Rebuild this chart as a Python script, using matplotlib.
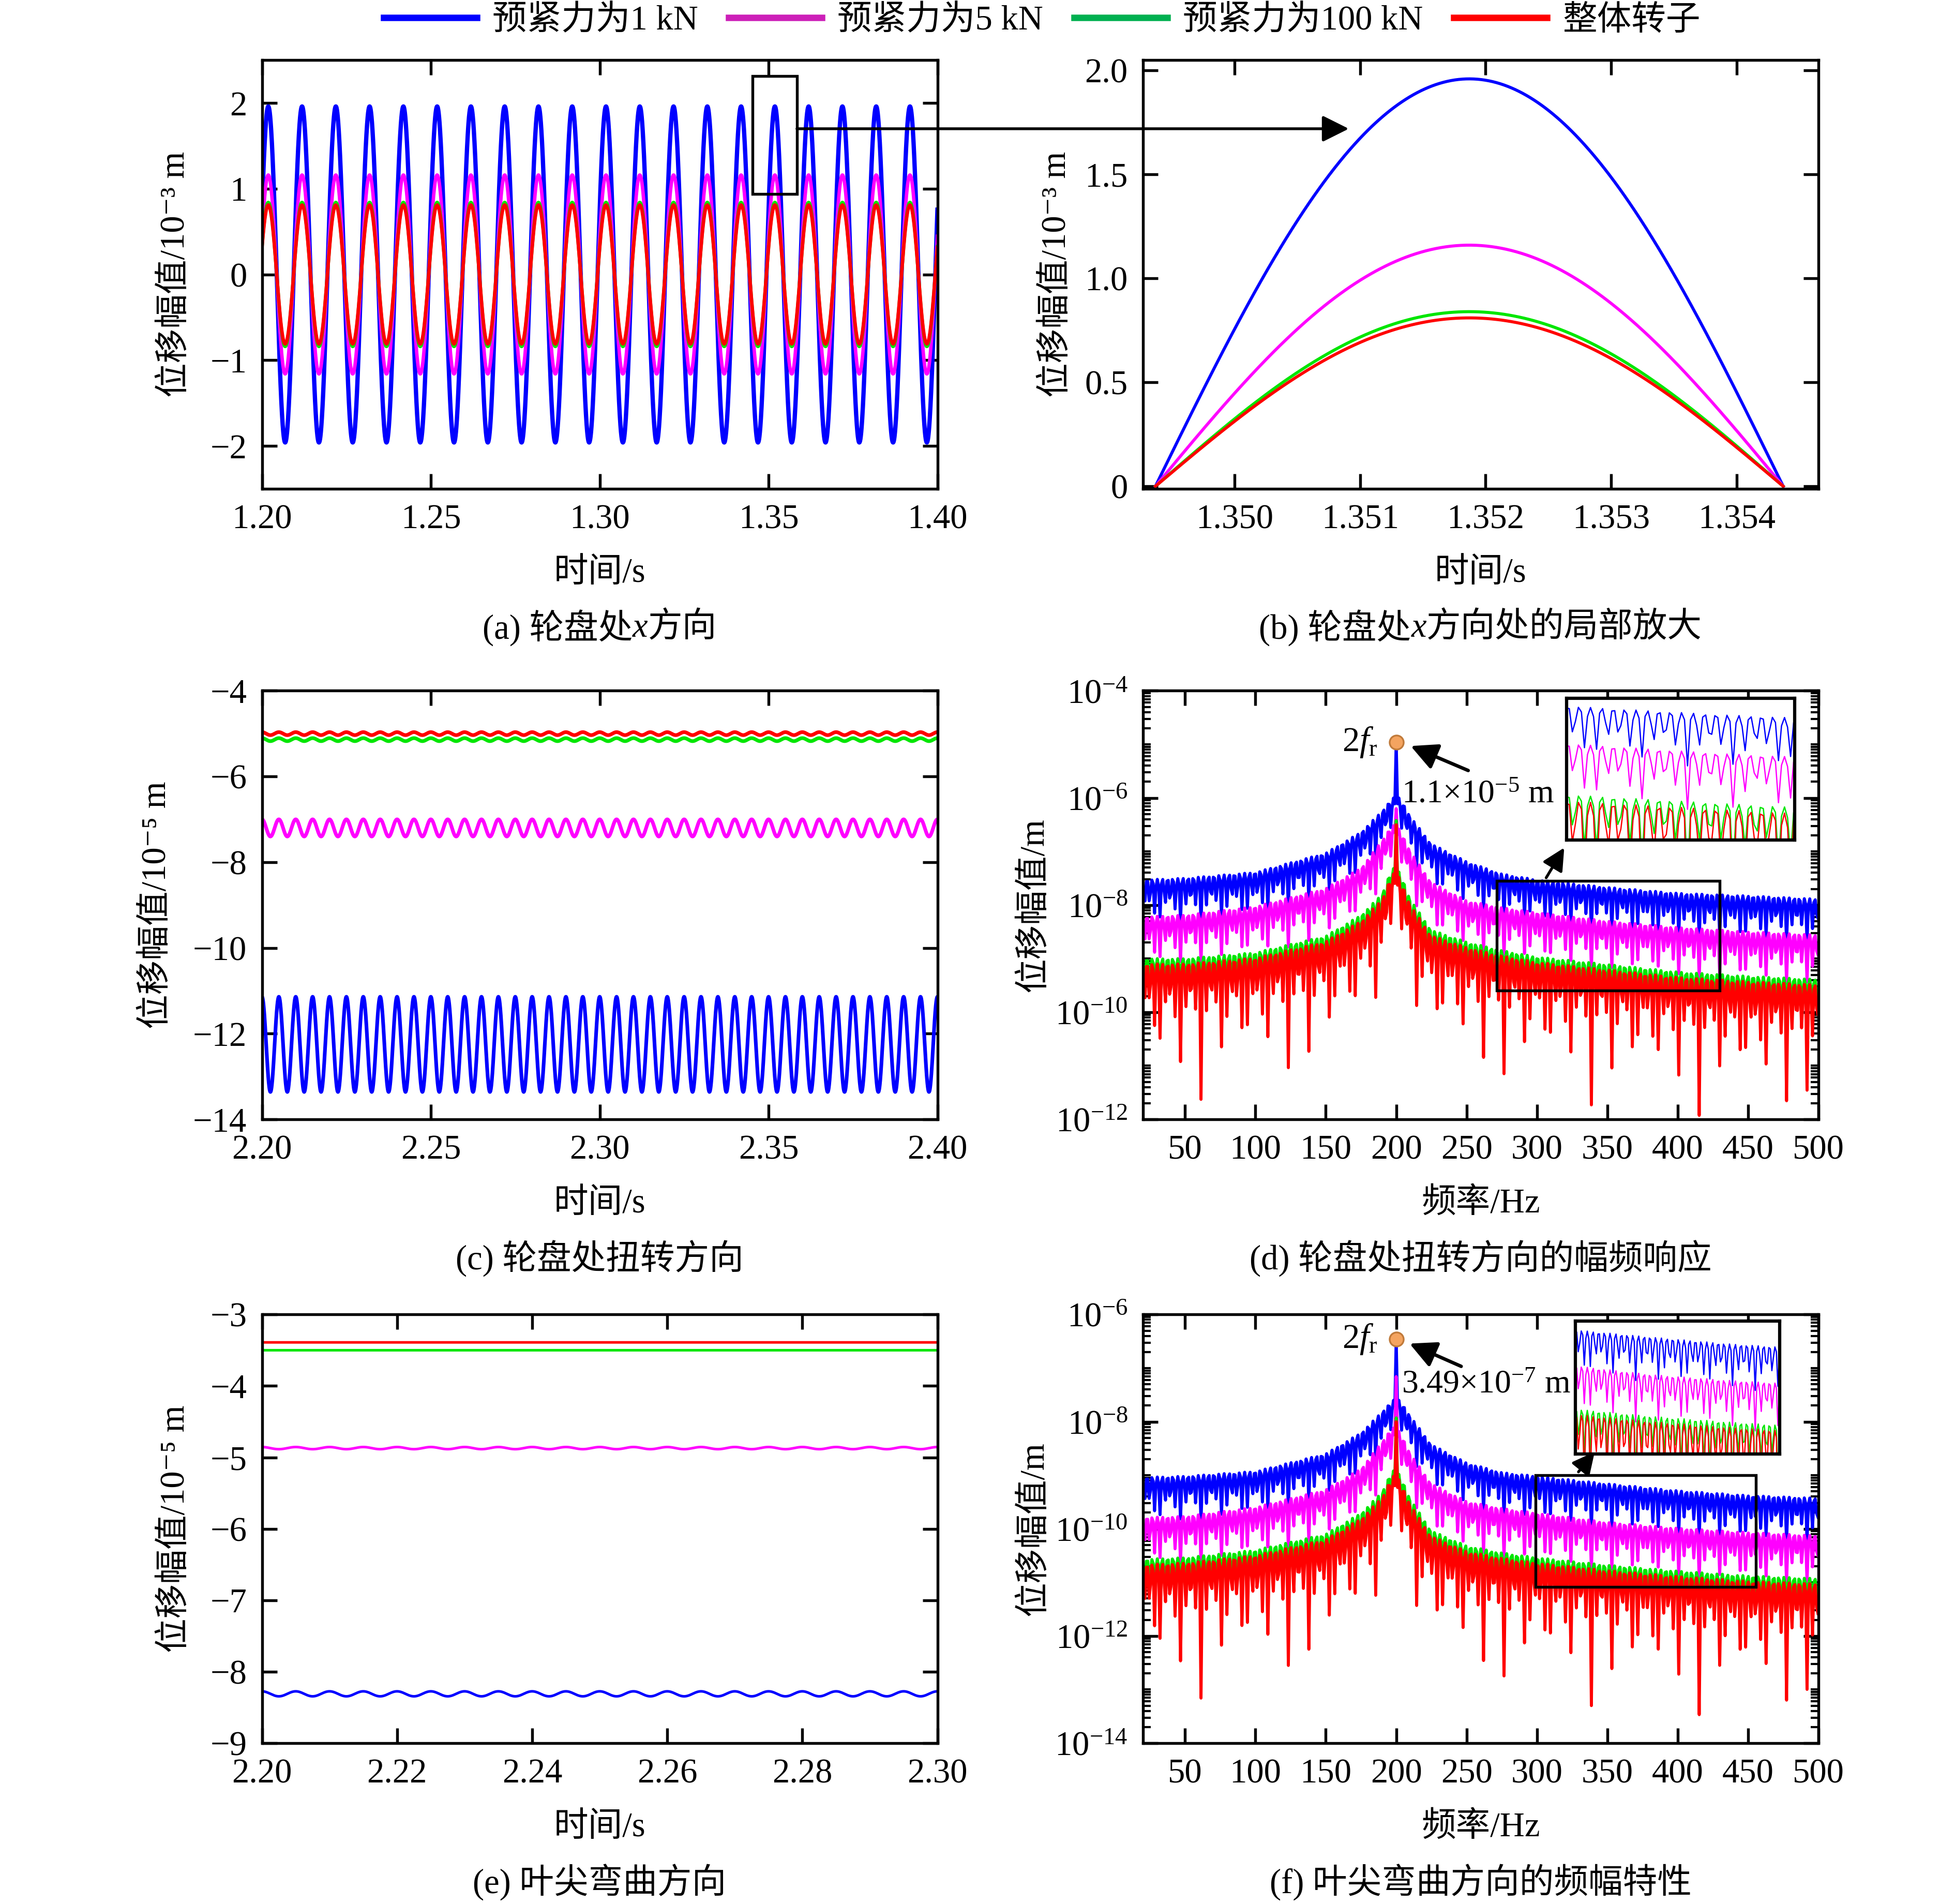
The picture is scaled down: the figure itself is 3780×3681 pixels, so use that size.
import numpy as np
import matplotlib
matplotlib.use("Agg")
import matplotlib.pyplot as plt
from matplotlib.patches import Rectangle, ConnectionPatch
from matplotlib.lines import Line2D
from matplotlib.ticker import FixedLocator, LogLocator, NullFormatter, NullLocator, FuncFormatter

plt.rcParams['font.family'] = ['Liberation Serif', 'DejaVu Serif', 'Noto Sans CJK SC']
plt.rcParams['font.size'] = 16
plt.rcParams['mathtext.fontset'] = 'custom'
plt.rcParams['mathtext.rm'] = 'Liberation Serif'
plt.rcParams['mathtext.it'] = 'Liberation Serif:italic'
plt.rcParams['mathtext.bf'] = 'Liberation Serif:bold'
plt.rcParams['axes.linewidth'] = 1.3
for ax_name in ('xtick', 'ytick'):
    plt.rcParams[ax_name + '.direction'] = 'in'
    plt.rcParams[ax_name + '.major.size'] = 7
    plt.rcParams[ax_name + '.major.width'] = 1.3
    plt.rcParams[ax_name + '.minor.size'] = 3.5
    plt.rcParams[ax_name + '.minor.width'] = 1.0
    plt.rcParams[ax_name + '.major.pad'] = 7
plt.rcParams['xtick.top'] = True
plt.rcParams['ytick.right'] = True

# ---------------- data ----------------
labels = ['预紧力为1 kN', '预紧力为5 kN', '预紧力为100 kN', '整体转子']
colors = ['#0000FF', '#FF00FF', '#00E600', '#FF0000']
legend_colors = ['#0000FF', '#CC1FB8', '#00B050', '#FF0000']

# (a)/(b) disk x direction, 10^-3 m
amp_x = [1.96, 1.16, 0.84, 0.81]
freq_x = 100.0          # Hz
t_peak_x = 1.35187      # s, peak shown in (b)

# (c) disk torsion, 10^-5 m
mean_c = [-12.25, -7.20, -5.14, -5.00]
ripple_c = [1.11, 0.20, 0.035, 0.035]
freq_c = 200.0

# (e) blade tip bending, 10^-5 m
mean_e = [-8.31, -4.87, -3.50, -3.39]
ripple_e = [0.035, 0.015, 0.0, 0.0]
freq_e = 200.0

# spectra: top envelope (log10 m) read at these frequencies
env_f = [20, 50, 100, 150, 175, 190, 197, 203, 210, 225, 250, 275, 300, 350, 400, 450, 500]
env_d = [
    [-7.53, -7.50, -7.39, -7.03, -6.64, -6.25, -6.00, -6.00, -6.35, -6.86, -7.19, -7.42, -7.53, -7.67, -7.78, -7.83, -7.89],
    [-8.22, -8.19, -8.03, -7.69, -7.31, -6.80, -6.50, -6.60, -7.00, -7.58, -7.92, -8.05, -8.14, -8.30, -8.42, -8.50, -8.56],
    [-9.00, -9.00, -8.89, -8.58, -8.19, -7.80, -7.30, -7.40, -7.90, -8.47, -8.69, -8.85, -8.97, -9.11, -9.25, -9.33, -9.39],
    [-9.10, -9.10, -8.99, -8.68, -8.30, -7.90, -7.40, -7.50, -8.00, -8.57, -8.79, -8.95, -9.07, -9.21, -9.35, -9.43, -9.49],
]
peak_d = [-4.96, -6.20, -6.42, -6.50]
env_f6 = [
    [-9.04, -9.02, -8.93, -8.60, -8.21, -7.82, -7.60, -7.60, -7.90, -8.43, -8.77, -8.95, -9.02, -9.16, -9.29, -9.38, -9.43],
    [-9.79, -9.77, -9.60, -9.27, -8.88, -8.38, -8.10, -8.20, -8.60, -9.16, -9.49, -9.62, -9.71, -9.88, -9.99, -10.07, -10.13],
    [-10.57, -10.54, -10.40, -10.10, -9.71, -9.32, -8.90, -9.00, -9.45, -10.04, -10.32, -10.45, -10.54, -10.68, -10.79, -10.88, -10.93],
    [-10.67, -10.64, -10.50, -10.20, -9.81, -9.42, -9.00, -9.10, -9.55, -10.14, -10.42, -10.55, -10.64, -10.78, -10.89, -10.98, -11.03],
]
peak_f6 = [-6.46, -7.16, -7.93, -8.00]
# comb lobes: spacing, FFT bin width, dip depth per series
lobe_w = 3.65
bin_w = 0.97
dip_k = [1.0, 1.0, 1.0, 1.25]
dip_c = [0.15, 0.12, 0.05, 0.0005]


def spectrum(env, peak, i):
    f = 200 + np.arange(-int(180 / bin_w), int(300 / bin_w) + 1) * bin_w
    top = np.interp(f, env_f, env)
    s = np.abs(np.sin(np.pi * (f - 200) / lobe_w))
    shape = dip_k[i] * (np.log10(s + dip_c[i]) - np.log10(1 + dip_c[i]))
    y = 10 ** (top + shape)
    y[np.argmin(np.abs(f - 200))] = 10 ** peak[i]
    return f, y


# ---------------- figure ----------------
fig = plt.figure(figsize=(12.6, 12.27), dpi=300)
L, R, W = 0.134, 0.5846, 0.3455
rows = [0.7433, 0.4121, 0.0845]
H = 0.2251
ax_a = fig.add_axes([L, rows[0], W, H])
ax_b = fig.add_axes([R, rows[0], W, H])
ax_c = fig.add_axes([L, rows[1], W, H])
ax_d = fig.add_axes([R, rows[1], W, H])
ax_e = fig.add_axes([L, rows[2], W, H])
ax_f = fig.add_axes([R, rows[2], W, H])

# (a)
t_a = np.linspace(1.2, 1.4, 6001)
for i in range(4):
    ax_a.plot(t_a, amp_x[i] * np.cos(2 * np.pi * freq_x * (t_a - t_peak_x)),
              color=colors[i], lw=2.0 if i == 0 else 1.6)
ax_a.set_xlim(1.2, 1.4)
ax_a.set_ylim(-2.5, 2.5)
ax_a.xaxis.set_major_locator(FixedLocator([1.20, 1.25, 1.30, 1.35, 1.40]))
ax_a.xaxis.set_major_formatter(FuncFormatter(lambda v, p: f'{v:.2f}'))
ax_a.yaxis.set_major_locator(FixedLocator([-2, -1, 0, 1, 2]))
ax_a.add_patch(Rectangle((1.3453, 0.941), 0.0131, 1.3715, fill=False, lw=1.3, color='k', zorder=5))

# (b)
t_b = np.linspace(t_peak_x - 0.0025, t_peak_x + 0.0025, 500)
for i in range(4):
    ax_b.plot(t_b, amp_x[i] * np.cos(2 * np.pi * freq_x * (t_b - t_peak_x)), color=colors[i], lw=1.4)
ax_b.set_xlim(1.34927, 1.35465)
ax_b.set_ylim(-0.012, 2.05)
ax_b.xaxis.set_major_locator(FixedLocator([1.350, 1.351, 1.352, 1.353, 1.354]))
ax_b.xaxis.set_major_formatter(FuncFormatter(lambda v, p: f'{v:.3f}'))
ax_b.yaxis.set_major_locator(FixedLocator([0, 0.5, 1.0, 1.5, 2.0]))
ax_b.yaxis.set_major_formatter(FuncFormatter(lambda v, p: '0' if abs(v) < 1e-9 else f'{v:.1f}'))

# (c)
t_c = np.linspace(2.2, 2.4, 6001)
for i in range(4):
    ax_c.plot(t_c, mean_c[i] + ripple_c[i] * np.cos(2 * np.pi * freq_c * (t_c - 2.2)),
              color=colors[i], lw=1.7)
ax_c.set_xlim(2.2, 2.4)
ax_c.set_ylim(-14, -4)
ax_c.xaxis.set_major_locator(FixedLocator([2.20, 2.25, 2.30, 2.35, 2.40]))
ax_c.xaxis.set_major_formatter(FuncFormatter(lambda v, p: f'{v:.2f}'))
ax_c.yaxis.set_major_locator(FixedLocator([-14, -12, -10, -8, -6, -4]))

# (e)
t_e = np.linspace(2.2, 2.3, 4001)
for i in range(4):
    ax_e.plot(t_e, mean_e[i] + ripple_e[i] * np.cos(2 * np.pi * freq_e * (t_e - 2.2)),
              color=colors[i], lw=1.2)
ax_e.set_xlim(2.2, 2.3)
ax_e.set_ylim(-9, -3)
ax_e.xaxis.set_major_locator(FixedLocator([2.20, 2.22, 2.24, 2.26, 2.28, 2.30]))
ax_e.xaxis.set_major_formatter(FuncFormatter(lambda v, p: f'{v:.2f}'))
ax_e.yaxis.set_major_locator(FixedLocator([-9, -8, -7, -6, -5, -4, -3]))


def spec_panel(ax, env_all, peak, ylo, yhi, rect, inset_pos, inset_x, inset_y,
               note, note_xy, arrow_tail, arrow_head, inset_tail, inset_head):
    curves = [spectrum(env_all[i], peak, i) for i in range(4)]
    for i, (f, y) in enumerate(curves):
        ax.plot(f, y, color=colors[i], lw=1.4)
    ax.set_yscale('log')
    ax.set_xlim(20, 500)
    ax.set_ylim(10.0 ** ylo, 10.0 ** yhi)
    ax.xaxis.set_major_locator(FixedLocator(np.arange(50, 501, 50)))
    ax.yaxis.set_major_locator(FixedLocator([10.0 ** k for k in range(ylo, yhi + 1, 2)]))
    ax.yaxis.set_minor_locator(LogLocator(base=10, subs=np.arange(1, 10), numticks=30))
    ax.yaxis.set_minor_formatter(NullFormatter())
    ax.plot(200, 10 ** peak[0], 'o', ms=6.5, mfc='#F4A460', mec='#C07A3A', mew=0.8, zorder=6)
    ax.text(187, 10 ** peak[0], r'2$f_{\mathrm{r}}$', ha='right', va='center', fontsize=16)
    ax.text(note_xy[0], 10 ** note_xy[1], note, ha='left', va='center', fontsize=15.3)
    ax.annotate('', xy=(arrow_head[0], 10 ** arrow_head[1]), xytext=(arrow_tail[0], 10 ** arrow_tail[1]),
                arrowprops=dict(arrowstyle='-|>', color='k', lw=1.6, mutation_scale=26))
    x0, x1, y0, y1 = rect
    ax.add_patch(Rectangle((x0, 10 ** y0), x1 - x0, 10 ** y1 - 10 ** y0,
                           fill=False, lw=1.3, color='k', zorder=5))
    ax.annotate('', xy=(inset_head[0], 10 ** inset_head[1]), xytext=(inset_tail[0], 10 ** inset_tail[1]),
                arrowprops=dict(arrowstyle='-|>', color='k', lw=1.3, mutation_scale=22),
                annotation_clip=False)
    ins = fig.add_axes(inset_pos)
    for i, (f, y) in enumerate(curves):
        ins.plot(f, y, color=colors[i], lw=0.6)
    ins.set_yscale('log')
    ins.set_xlim(*inset_x)
    ins.set_ylim(10 ** inset_y[0], 10 ** inset_y[1])
    ins.xaxis.set_major_locator(NullLocator())
    ins.xaxis.set_minor_locator(NullLocator())
    ins.yaxis.set_major_locator(NullLocator())
    ins.yaxis.set_minor_locator(NullLocator())
    for sp in ins.spines.values():
        sp.set_linewidth(1.5)


spec_panel(ax_d, env_d, peak_d, -12, -4, (271.5, 430, -9.6, -7.55),
           [0.8013, 0.5589, 0.1167, 0.0744], (300, 373), (-9.7, -7.4),
           r'1.1×10$^{-5}$ m', (204, -5.94), (254, -5.52), (207.5, -5.0),
           (305, -7.56), (321, -6.86))
spec_panel(ax_f, env_f6, peak_f6, -14, -6, (299, 455.6, -11.08, -9.0),
           [0.8058, 0.2363, 0.1045, 0.0698], (300, 431), (-11.4, -8.85),
           r'3.49×10$^{-7}$ m', (204, -7.31), (249, -7.0), (206.7, -6.51),
           (327.6, -9.0), (343, -8.5))

# axis labels
ylab = {ax_a: ('位移幅值/10⁻³ m', -0.128), ax_b: ('位移幅值/10⁻³ m', -0.128),
        ax_c: ('位移幅值/10⁻⁵ m', -0.156), ax_d: ('位移幅值/m', -0.161),
        ax_e: ('位移幅值/10⁻⁵ m', -0.128), ax_f: ('位移幅值/m', -0.161)}
for ax, (s, xpos) in ylab.items():
    ax.set_ylabel(s)
    ax.yaxis.set_label_coords(xpos, 0.5)
    ax.yaxis.label.set_va('center')
for ax in (ax_a, ax_b, ax_c, ax_e):
    ax.set_xlabel('时间/s')
for ax in (ax_d, ax_f):
    ax.set_xlabel('频率/Hz')
for ax in (ax_a, ax_b, ax_c, ax_d, ax_e, ax_f):
    ax.xaxis.set_label_coords(0.5, -0.197)
    ax.xaxis.label.set_va('center')

# captions with italic x
renderer = fig.canvas.get_renderer()


def caption(ax, parts, y=-0.325):
    texts = []
    for s, style in parts:
        texts.append(ax.text(0, y, s, transform=ax.transAxes, ha='left', va='center',
                             fontstyle=style, fontsize=16))
    ax_w = ax.get_window_extent(renderer).width
    widths = [t.get_window_extent(renderer).width / ax_w for t in texts]
    x = 0.5 - sum(widths) / 2
    for t, w in zip(texts, widths):
        t.set_x(x)
        x += w


caption(ax_a, [('(a) 轮盘处', 'normal'), ('x', 'italic'), ('方向', 'normal')])
caption(ax_b, [('(b) 轮盘处', 'normal'), ('x', 'italic'), ('方向处的局部放大', 'normal')])
caption(ax_c, [('(c) 轮盘处扭转方向', 'normal')])
caption(ax_d, [('(d) 轮盘处扭转方向的幅频响应', 'normal')])
caption(ax_e, [('(e) 叶尖弯曲方向', 'normal')])
caption(ax_f, [('(f) 叶尖弯曲方向的频幅特性', 'normal')])

# connector from (a) box to (b)
pA = ax_a.transData.transform((1.3584, 1.70))
xB = ax_b.transData.transform((1.35091, 0))[0]
con = ConnectionPatch(xyA=pA, coordsA='figure pixels', xyB=(xB, pA[1]), coordsB='figure pixels',
                      arrowstyle='-|>', lw=1.3, color='k', mutation_scale=26)
fig.add_artist(con)

# legend
handles = [Line2D([], [], color=c, lw=3) for c in legend_colors]
fig.legend(handles, labels, loc='center', bbox_to_anchor=(0.533, 0.989), ncol=4, frameon=False,
           handlelength=2.7, handletextpad=0.45, columnspacing=0.9, fontsize=16)

fig.savefig('out.png', dpi=300)
